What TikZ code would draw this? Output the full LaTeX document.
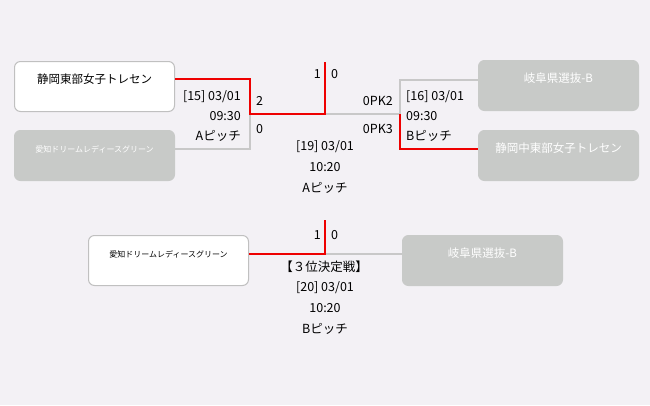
\documentclass[tikz,border=0pt]{standalone}
\usepackage{fontspec}
\setmainfont{Noto Sans CJK JP}
\usepackage{xcolor}
\usepackage{tikz}

\definecolor{bgcol}{RGB}{243,241,245}
\definecolor{winred}{RGB}{238,0,0}
\definecolor{losegray}{RGB}{200,200,200}
\definecolor{boxgray}{RGB}{200,202,200}
\definecolor{edgegray}{RGB}{192,192,192}

\newcommand{\teamtext}[2]{\parbox[c][48pt][t]{158pt}{\centering\rule{0pt}{21pt}{#1#2}}}

\tikzset{
  team/.style={draw=edgegray, line width=1pt, rounded corners=6pt, fill=white,
    inner sep=0pt, minimum width=160pt, minimum height=50pt, anchor=north west},
  gone/.style={team, draw=boxgray, fill=boxgray, text=white},
  win/.style={draw=winred, line width=2pt},
  lose/.style={draw=losegray, line width=2pt},
  lbl/.style={inner sep=0pt, text height=9pt, text depth=2pt,
    font=\fontsize{12.5}{13}\selectfont},
}

\begin{document}
\begin{tikzpicture}[x=1pt, y=-1pt]
  \fill[bgcol] (0,0) rectangle (650,405);
  \useasboundingbox (0,0) rectangle (650,405);

  % teams
  \node[team] (s15a) at (14,61) {\teamtext{\fontsize{11.5}{12}\selectfont}{静岡東部女子トレセン}};
  \node[gone] (s15b) at (14,130) {\teamtext{\fontsize{8}{9}\selectfont}{愛知ドリームレディースグリーン}};
  \node[gone] (s16a) at (478,60) {\teamtext{\fontsize{11.5}{12}\selectfont}{岐阜県選抜-B}};
  \node[gone] (s16b) at (478,130) {\teamtext{\fontsize{11.5}{12}\selectfont}{静岡中東部女子トレセン}};
  \node[team] (s20a) at (88,235) {\teamtext{\fontsize{8}{9}\selectfont}{愛知ドリームレディースグリーン}};
  \node[gone] (s20b) at (402,235) {\teamtext{\fontsize{11.5}{12}\selectfont}{岐阜県選抜-B}};

  \coordinate (j15) at (250,114);
  \coordinate (j16) at (400,114);
  \coordinate (f19) at (325,114);
  \coordinate (top19) at (325,62);
  \coordinate (f20) at (325,254);
  \coordinate (top20) at (325,220);

  % losers first, winners on top
  \draw[lose] ([yshift=-19pt]s15b.north east) -| (j15);
  \draw[lose] (f19) -- (j16) |- ([yshift=-20pt]s16a.north west);
  \draw[lose] (f20) -- ([yshift=-19pt]s20b.north west);
  \draw[win] ([yshift=-18pt]s15a.north east) -| (j15) -- (f19) -- (top19);
  \draw[win] (j16) |- ([yshift=-19pt]s16b.north west);
  \draw[win] ([yshift=-19pt]s20a.north east) -- (f20) -- (top20);

  % match 15
  \node[lbl, anchor=east] (d15) at (241,97) {[15] 03/01};
  \node[lbl, anchor=east] (t15) at (241,117) {09:30};
  \node[lbl, anchor=east] (p15) at (241,137) {Aピッチ};
  \node[lbl, anchor=west] (g15a) at (256,102) {2};
  \node[lbl, anchor=west] (g15b) at (256,130) {0};

  % match 16
  \node[lbl, anchor=west] (d16) at (406,97) {[16] 03/01};
  \node[lbl, anchor=west] (t16) at (406,117) {09:30};
  \node[lbl, anchor=west] (p16) at (406,137) {Bピッチ};
  \node[lbl, anchor=east] (g16a) at (393,102) {0PK2};
  \node[lbl, anchor=east] (g16b) at (393,130) {0PK3};

  % match 19
  \node[lbl, anchor=east] (g19a) at (321,75) {1};
  \node[lbl, anchor=west] (g19b) at (331,75) {0};
  \node[lbl] (d19) at (325,147) {[19] 03/01};
  \node[lbl] (t19) at (325,168) {10:20};
  \node[lbl] (p19) at (325,189) {Aピッチ};

  % match 20
  \node[lbl, anchor=east] (g20a) at (321,236) {1};
  \node[lbl, anchor=west] (g20b) at (331,236) {0};
  \node[lbl] (k20) at (324,268) {【３位決定戦】};
  \node[lbl] (d20) at (325,288) {[20] 03/01};
  \node[lbl] (t20) at (325,309) {10:20};
  \node[lbl] (p20) at (325,330) {Bピッチ};
\end{tikzpicture}
\end{document}
